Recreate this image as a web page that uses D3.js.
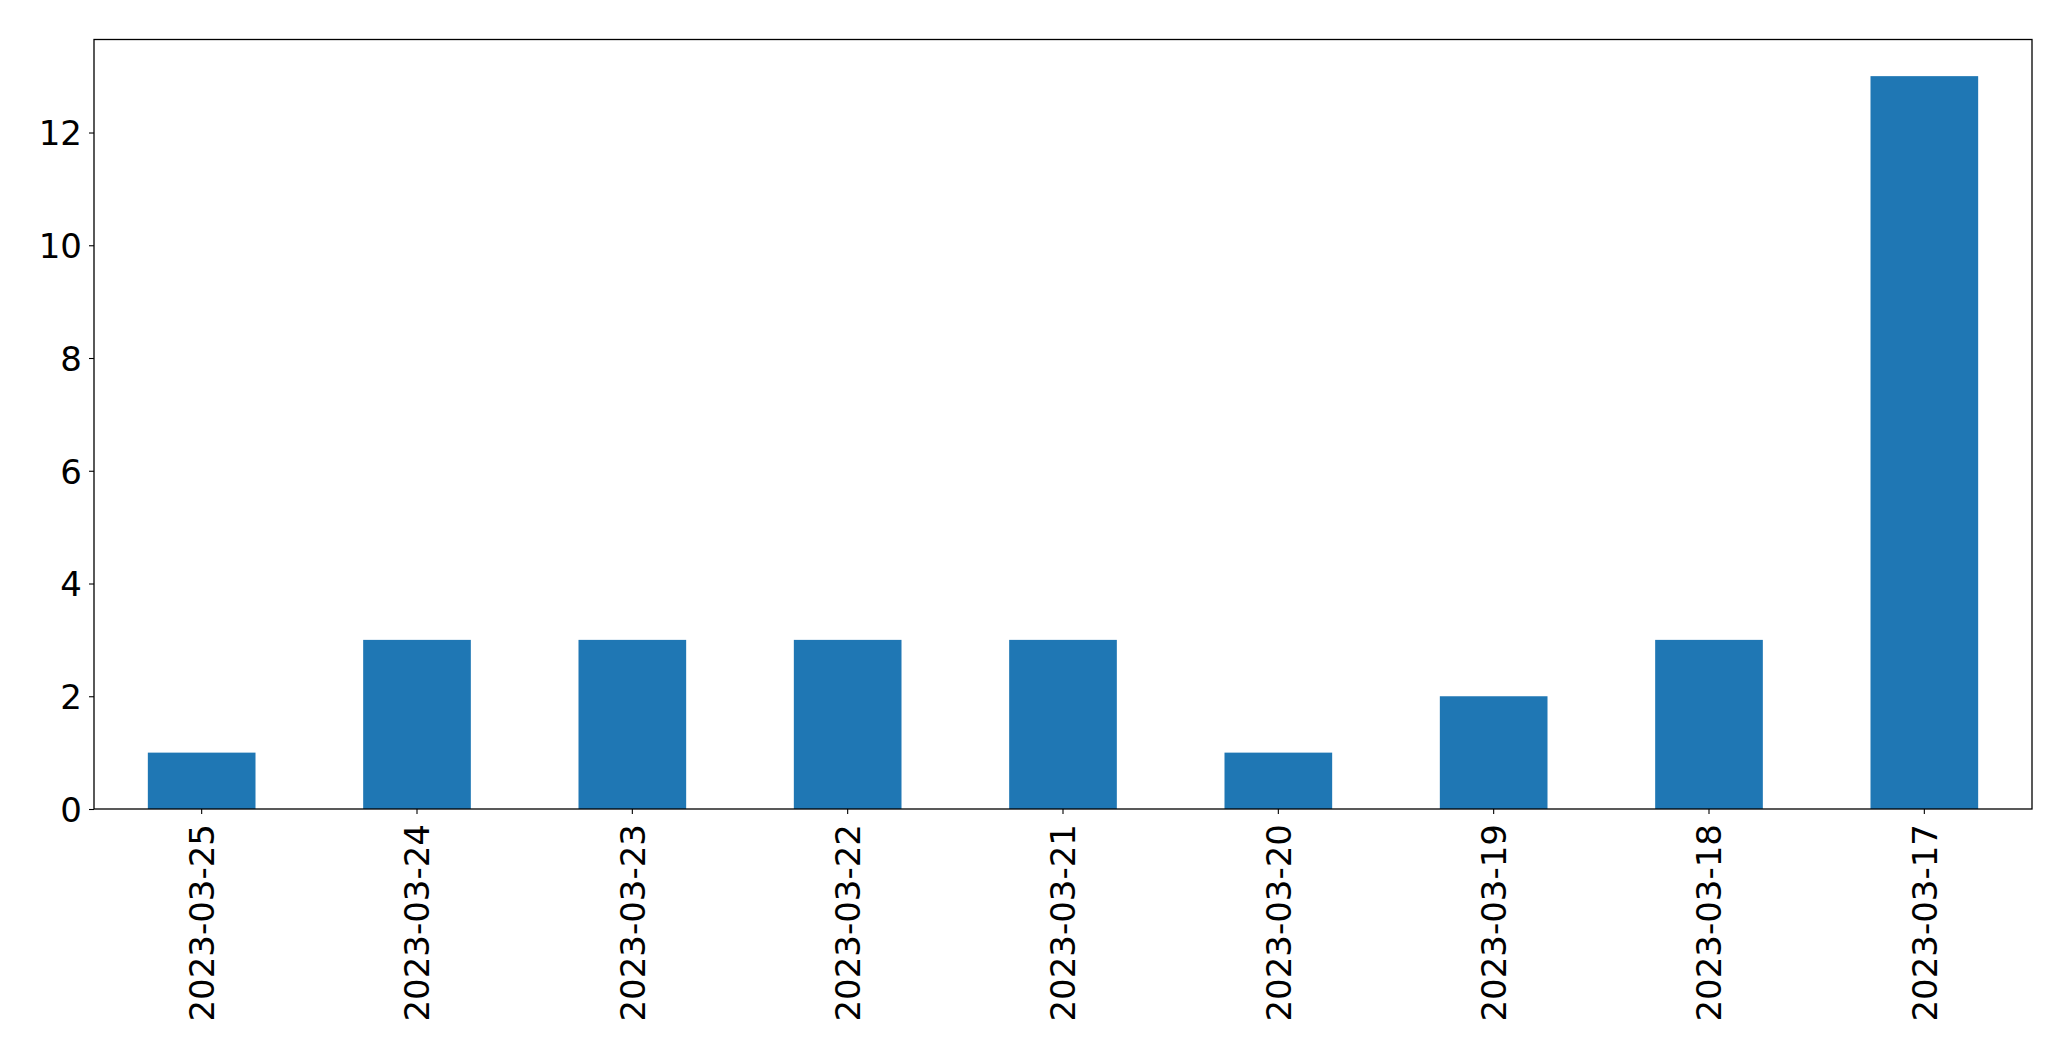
<html>
<head>
    <script src="https://d3js.org/d3.v7.min.js"></script>
    <style>
        body { margin: 0; background: #fff; }
        svg text {
            fill: #000;
            font-family: "DejaVu Sans", sans-serif;
            font-size: 34px;
        }
    </style>
</head>
<body>
<script>
    var dates = ["2023-03-25", "2023-03-24", "2023-03-23", "2023-03-22", "2023-03-21",
                 "2023-03-20", "2023-03-19", "2023-03-18", "2023-03-17"];
    var counts = [1, 3, 3, 3, 3, 1, 2, 3, 13];
    var yTicks = [0, 2, 4, 6, 8, 10, 12];

    var width = 2071,
        height = 1061,
        plotLeft = 94,
        plotRight = 2032,
        plotTop = 39.5,
        plotBottom = 809;

    var yMax = d3.max(counts) * 1.05;

    var x = d3.scaleBand()
        .domain(dates)
        .range([plotLeft, plotRight])
        .paddingInner(0.5)
        .paddingOuter(0.25);

    var y = d3.scaleLinear()
        .domain([0, yMax])
        .range([plotBottom, plotTop]);

    var svg = d3.select("body")
        .append("svg")
        .attr("width", width)
        .attr("height", height);

    svg.selectAll("rect.bar")
        .data(counts)
        .enter()
        .append("rect")
        .attr("class", "bar")
        .attr("x", function (d, i) { return x(dates[i]); })
        .attr("y", function (d) { return y(d); })
        .attr("width", x.bandwidth())
        .attr("height", function (d) { return plotBottom - y(d); })
        .attr("fill", "#1f77b4");

    // y axis
    var yAxis = svg.append("g")
        .attr("transform", "translate(" + plotLeft + ",0)")
        .call(d3.axisLeft(y).tickValues(yTicks).tickSize(5).tickPadding(7));
    yAxis.select(".domain").remove();
    yAxis.selectAll("line").attr("stroke", "#000").attr("stroke-width", 1.1);
    yAxis.selectAll("text")
        .attr("font-size", 34)
        .attr("font-family", "DejaVu Sans, sans-serif")
        .attr("dy", "0.36em");

    // x axis
    var xAxis = svg.append("g")
        .attr("transform", "translate(0," + plotBottom + ")")
        .call(d3.axisBottom(x).tickSize(5).tickPadding(0));
    xAxis.select(".domain").remove();
    xAxis.selectAll("line").attr("stroke", "#000").attr("stroke-width", 1.1);
    xAxis.selectAll("text")
        .attr("font-size", 34)
        .attr("font-family", "DejaVu Sans, sans-serif")
        .attr("text-anchor", "end")
        .attr("transform", "translate(0,15) rotate(-90)")
        .attr("x", 0)
        .attr("y", 0)
        .attr("dy", "0.36em");

    // frame
    svg.append("rect")
        .attr("x", plotLeft)
        .attr("y", plotTop)
        .attr("width", plotRight - plotLeft)
        .attr("height", plotBottom - plotTop)
        .attr("fill", "none")
        .attr("stroke", "#000")
        .attr("stroke-width", 1.3);
</script>
</body>
</html>
